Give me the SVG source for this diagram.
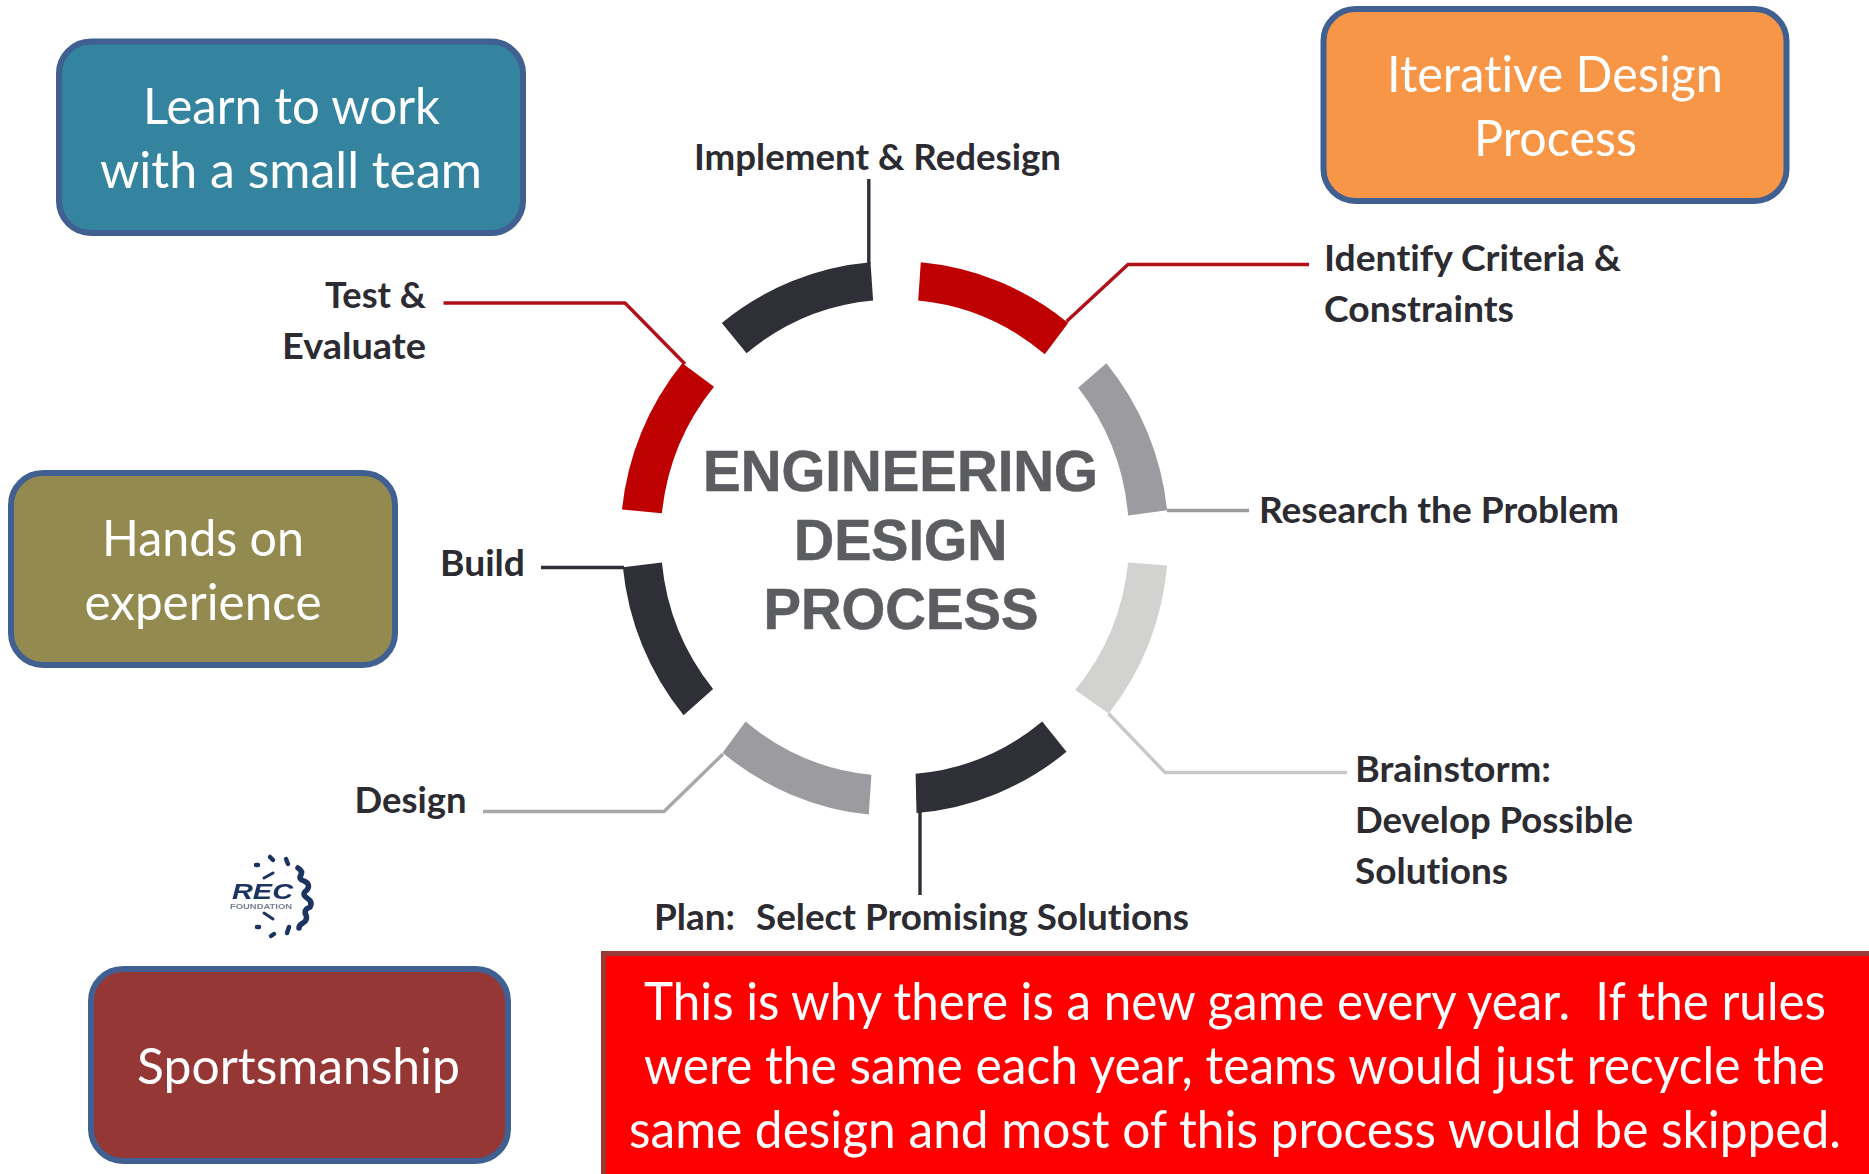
<svg xmlns="http://www.w3.org/2000/svg" width="1869" height="1174" viewBox="0 0 1869 1174">
<defs>
<style>
text{font-variant-ligatures:none}
.box{stroke:#3f6090;stroke-width:6}
.bt{font-family:"Lato","Liberation Sans",sans-serif;font-size:50px;fill:#fff}
.rt{font-family:"Lato","Liberation Sans",sans-serif;font-size:47.4px;fill:#fff}
.lb{font-family:"Lato","Liberation Sans",sans-serif;font-size:37px;font-weight:700;fill:#2b2b31}
.ct{font-family:"Liberation Sans",Arial,sans-serif;font-size:58px;font-weight:700;fill:#5c5d60;stroke:#5c5d60;stroke-width:.6}
.dk{fill:#2f2f37}.rd{fill:#bf0000}.gy{fill:#9c9ca0}.lg{fill:#d2d2d0}
.cn{fill:none;stroke-width:3.4}
.g{fill:none;stroke:#1f3460;stroke-linecap:round}
</style>
<filter id="soft" x="-10%" y="-10%" width="120%" height="120%"><feGaussianBlur stdDeviation="0.7"/></filter>
</defs>
<rect width="1869" height="1174" fill="#fff"/>

<g id="connectors">
<path class="cn" stroke="#2f2f37" d="M868.8 179V264"/>
<path class="cn" stroke="#b01018" d="M1066.5 321.5L1128 264.5H1309"/>
<path class="cn" stroke="#b01018" d="M443.5 303H625L685 364"/>
<path class="cn" stroke="#9c9ca0" d="M1167 510.5H1249"/>
<path class="cn" stroke="#2f2f37" d="M541 567.5H624"/>
<path class="cn" stroke="#a8a8a8" d="M483 811.5H664L723 754"/>
<path class="cn" stroke="#c8c8c8" d="M1108.5 713.5L1165 772.5H1347"/>
<path class="cn" stroke="#2f2f37" d="M920 812V895"/>
</g>

<g id="ring">
<path class="dk" d="M721.8 322.9A273 276 0 0 1 870.5 262.3L873.1 300.4A232 237 0 0 0 746.5 353.3Z"/>
<path class="rd" d="M920.8 262.3A273 276 0 0 1 1068.2 322.9L1044.8 354.3A232 237 0 0 0 918.2 300.4Z"/>
<path class="gy" d="M1106.4 363.2A273 276 0 0 1 1167.1 510.2L1128.1 515.4A232 237 0 0 0 1078.2 387.8Z"/>
<path class="lg" d="M1167.1 565.6A273 276 0 0 1 1108.6 713.6L1075.2 690.1A232 237 0 0 0 1128.1 562.5Z"/>
<path class="dk" d="M1066.5 751.8A273 276 0 0 1 916.5 813L915.6 773.8A232 237 0 0 0 1042.2 721.5Z"/>
<path class="gy" d="M868.8 814.6A273 276 0 0 1 722.6 752.8L745.6 721.5A232 237 0 0 0 871.4 774.8Z"/>
<path class="dk" d="M683.6 715.2A273 276 0 0 1 622.9 567.2L661.9 562.5A232 237 0 0 0 713.1 689Z"/>
<path class="rd" d="M622 509.6A273 276 0 0 1 682.3 363.2L714 386.7A232 237 0 0 0 661.9 513.3Z"/>
</g>

<g id="center-title">
<text class="ct" x="703" y="491" textLength="395" lengthAdjust="spacingAndGlyphs">ENGINEERING</text>
<text class="ct" x="794" y="559.5" textLength="213.5" lengthAdjust="spacingAndGlyphs">DESIGN</text>
<text class="ct" x="763.5" y="628.5" textLength="275" lengthAdjust="spacingAndGlyphs">PROCESS</text>
</g>

<g id="node-implement"><text class="lb" x="694" y="170" textLength="367" lengthAdjust="spacingAndGlyphs">Implement &amp; Redesign</text></g>
<g id="node-identify">
<text class="lb" x="1324" y="271" textLength="297" lengthAdjust="spacingAndGlyphs">Identify Criteria &amp;</text>
<text class="lb" x="1324" y="322" textLength="190" lengthAdjust="spacingAndGlyphs">Constraints</text>
</g>
<g id="node-research"><text class="lb" x="1259" y="523" textLength="360" lengthAdjust="spacingAndGlyphs">Research the Problem</text></g>
<g id="node-brainstorm">
<text class="lb" x="1355" y="782" textLength="196" lengthAdjust="spacingAndGlyphs">Brainstorm:</text>
<text class="lb" x="1355" y="833" textLength="278" lengthAdjust="spacingAndGlyphs">Develop Possible</text>
<text class="lb" x="1355" y="884" textLength="153" lengthAdjust="spacingAndGlyphs">Solutions</text>
</g>
<g id="node-plan">
<text class="lb" x="654" y="930" textLength="81" lengthAdjust="spacingAndGlyphs">Plan:</text>
<text class="lb" x="756" y="930" textLength="433" lengthAdjust="spacingAndGlyphs">Select Promising Solutions</text>
</g>
<g id="node-design"><text class="lb" x="354.5" y="813" textLength="112" lengthAdjust="spacingAndGlyphs">Design</text></g>
<g id="node-build"><text class="lb" x="440" y="576" textLength="85" lengthAdjust="spacingAndGlyphs">Build</text></g>
<g id="node-test">
<text class="lb" x="325" y="308" textLength="101" lengthAdjust="spacingAndGlyphs">Test &amp;</text>
<text class="lb" x="282" y="359" textLength="144" lengthAdjust="spacingAndGlyphs">Evaluate</text>
</g>

<g id="box-team">
<rect class="box" x="59" y="41.5" width="464" height="191.5" rx="32" fill="#34849f"/>
<text class="bt" x="143" y="124" textLength="297" lengthAdjust="spacingAndGlyphs">Learn to work</text>
<text class="bt" x="100" y="187.5" textLength="382" lengthAdjust="spacingAndGlyphs">with a small team</text>
</g>
<g id="box-iterative">
<rect class="box" x="1323.5" y="9" width="463" height="192" rx="32" fill="#f79646"/>
<text class="bt" x="1387" y="92" textLength="336" lengthAdjust="spacingAndGlyphs">Iterative Design</text>
<text class="bt" x="1474" y="155.5" textLength="163" lengthAdjust="spacingAndGlyphs">Process</text>
</g>
<g id="box-hands">
<rect class="box" x="11" y="473" width="384" height="192" rx="32" fill="#938a4f"/>
<text class="bt" x="102" y="556" textLength="202" lengthAdjust="spacingAndGlyphs">Hands on</text>
<text class="bt" x="84.5" y="619.5" textLength="237" lengthAdjust="spacingAndGlyphs">experience</text>
</g>
<g id="box-sports">
<rect class="box" x="91" y="969" width="417" height="192" rx="32" fill="#953735"/>
<text class="bt" x="137" y="1084" textLength="323" lengthAdjust="spacingAndGlyphs">Sportsmanship</text>
</g>
<g id="box-note">
<rect x="601" y="951" width="1268" height="223" fill="#ff0000"/>
<path d="M603.5 1174V953.5H1869" fill="none" stroke="#9a3a38" stroke-width="5"/>
<text class="rt" transform="translate(644 1020) scale(1 1.118)" textLength="1182" lengthAdjust="spacingAndGlyphs" xml:space="preserve">This is why there is a new game every year.  If the rules</text>
<text class="rt" transform="translate(644 1084) scale(1 1.118)" textLength="1181" lengthAdjust="spacingAndGlyphs">were the same each year, teams would just recycle the</text>
<text class="rt" transform="translate(629 1148) scale(1 1.118)" textLength="1212" lengthAdjust="spacingAndGlyphs">same design and most of this process would be skipped.</text>
</g>

<g id="logo" filter="url(#soft)">
<text x="232" y="899" font-family="Liberation Sans,sans-serif" font-size="22" font-weight="700" font-style="italic" fill="#1f3460" textLength="61" lengthAdjust="spacingAndGlyphs">REC</text>
<text x="230" y="909" font-family="Liberation Sans,sans-serif" font-size="7" font-weight="700" fill="#77808f" textLength="62" lengthAdjust="spacingAndGlyphs">FOUNDATION</text>
<path class="g" stroke-width="4.5" d="M256 865h2M270 857l3 3M286 859l2 5M257 927h2M271 936l3-2M287 933l2-6"/>
<path class="g" stroke-width="5.5" d="M298 868q5 3 3 7q-3 4 3 6q7 3 3 9q-6 4 0 8q6 4 3 9q-7 3-4 8q2 5-3 8q-4 2-4 5"/>
<path class="g" stroke-width="3" d="M264 878l9-5M264 913l9 6"/>
</g>
</svg>
